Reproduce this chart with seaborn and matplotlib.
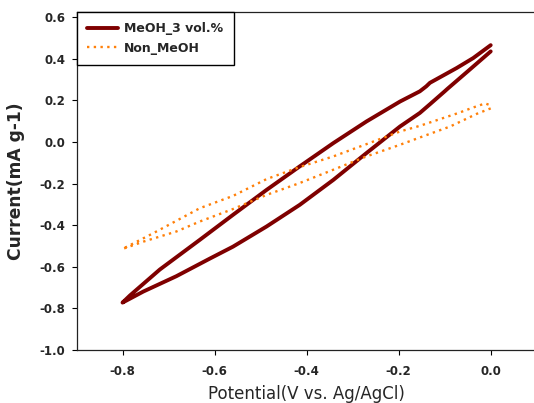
import matplotlib
matplotlib.use("Agg")
import matplotlib.pyplot as plt
import numpy as np
import pandas as pd
import seaborn as sns

# Cyclic voltammograms: potential (V vs. Ag/AgCl) and current (mA g-1)
meoh_potential = [
    0.000, -0.050, -0.094, -0.100, -0.132, -0.154, -0.197, -0.270, -0.342,
    -0.415, -0.487, -0.560, -0.610, -0.683, -0.755, -0.800,
    -0.784, -0.719, -0.632, -0.560, -0.487, -0.415, -0.342, -0.270,
    -0.197, -0.154, -0.140, -0.132, -0.074, -0.038, 0.000,
]
meoh_current = [
    0.436, 0.340, 0.256, 0.244, 0.182, 0.140, 0.075, -0.053, -0.182,
    -0.302, -0.406, -0.503, -0.560, -0.645, -0.719, -0.772,
    -0.738, -0.613, -0.470, -0.350, -0.230, -0.117, -0.005, 0.099,
    0.195, 0.244, 0.268, 0.285, 0.356, 0.404, 0.466,
]

non_meoh_potential = [
    0.000, -0.030, -0.088, -0.154, -0.197, -0.270, -0.342, -0.415, -0.487,
    -0.560, -0.632, -0.683, -0.755, -0.800,
    -0.733, -0.632, -0.560, -0.487, -0.415, -0.342, -0.270, -0.197, -0.154,
    -0.070, -0.041, -0.012, 0.000,
]
non_meoh_current = [
    0.162, 0.136, 0.075, 0.022, -0.013, -0.069, -0.133, -0.197, -0.254,
    -0.322, -0.382, -0.430, -0.479, -0.514,
    -0.438, -0.318, -0.259, -0.178, -0.120, -0.069, -0.010, 0.051, 0.078,
    0.140, 0.164, 0.186, 0.176,
]

series_names = ["MeOH_3 vol.%", "Non_MeOH"]
x_ticks = [-0.8, -0.6, -0.4, -0.2, 0.0]
x_tick_labels = ["-0.8", "-0.6", "-0.4", "-0.2", "0.0"]
y_ticks = [-1.0, -0.8, -0.6, -0.4, -0.2, 0.0, 0.2, 0.4, 0.6]
y_tick_labels = ["-1.0", "-0.8", "-0.6", "-0.4", "-0.2", "0.0", "0.2", "0.4", "0.6"]

meoh_df = pd.DataFrame({"potential": meoh_potential, "current": meoh_current})
non_df = pd.DataFrame({"potential": non_meoh_potential, "current": non_meoh_current})

sns.set_style("ticks")
plt.rcParams["font.family"] = ["DejaVu Sans"]

fig = plt.figure(figsize=(5.34, 4.03), dpi=100)
ax = fig.add_axes([0.1433, 0.1315, 0.8618, 0.8395])

dotted = (0, (1, 1.85))
sns.lineplot(data=meoh_df, x="potential", y="current", sort=False, estimator=None,
             color="#7f0000", linewidth=2.8, ax=ax, label=series_names[0])
sns.lineplot(data=non_df, x="potential", y="current", sort=False, estimator=None,
             color="#ff800a", linewidth=1.7, ax=ax, label=series_names[1])
ax.lines[1].set_linestyle(dotted)
ax.lines[1].set_dash_capstyle("butt")

ax.set_xlim(-0.9, 0.1)
ax.set_ylim(-1.0, 0.627)
ax.set_xticks(x_ticks)
ax.set_xticklabels(x_tick_labels, fontsize=8.5, fontweight="bold")
ax.set_yticks(y_ticks)
ax.set_yticklabels(y_tick_labels, fontsize=8.5, fontweight="bold")
ax.tick_params(axis="both", direction="out", length=3.5, width=0.8, color="black")
ax.tick_params(axis="y", pad=4.7)
ax.tick_params(axis="x", pad=7.0)

for side in ["left", "bottom", "top"]:
    ax.spines[side].set_color("#222222")
    ax.spines[side].set_linewidth(0.9)
ax.spines["right"].set_visible(False)

ax.set_xlabel("Potential(V vs. Ag/AgCl)", fontsize=12.0)
ax.set_ylabel("Current(mA g-1)", fontsize=12.3, fontweight="bold")
ax.xaxis.set_label_coords(0.5, -0.1045)
ax.yaxis.set_label_coords(-0.111, 0.5)

leg = ax.legend(loc="upper left", bbox_to_anchor=(0, 1), borderaxespad=0,
                handlelength=2.45, handletextpad=0.48, borderpad=0.85,
                labelspacing=0.5, frameon=True, fancybox=False, framealpha=1,
                edgecolor="black", prop={"size": 9, "weight": "bold"})
leg.get_frame().set_linewidth(1.0)
leg.get_lines()[1].set_linestyle(dotted)
leg.get_lines()[1].set_dash_capstyle("butt")

fig.savefig("out.png", dpi=100)
